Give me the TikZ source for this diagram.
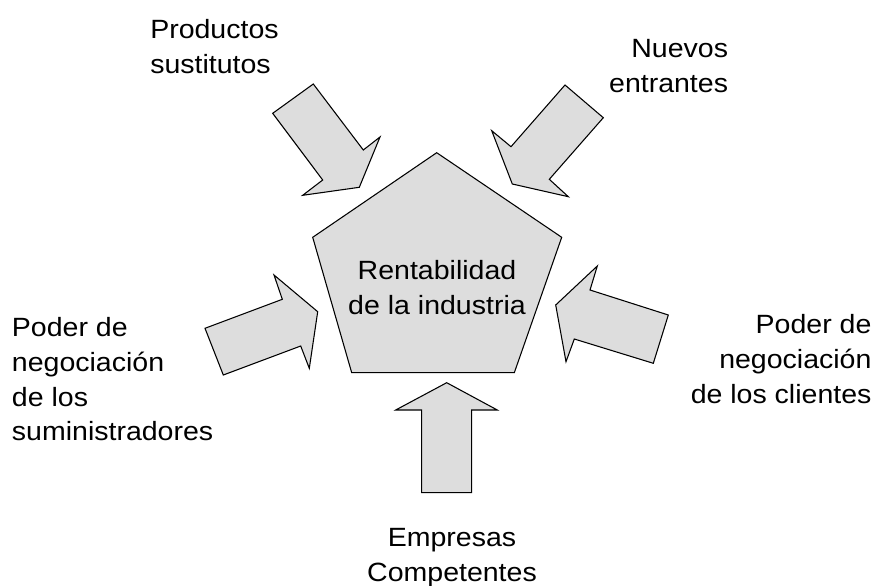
\documentclass[tikz,border=0pt]{standalone}
\usepackage{fontspec}
\setmainfont{Liberation Sans}[FakeStretch=1.08]
\definecolor{forcegray}{RGB}{221,221,221}

\begin{document}
\begin{tikzpicture}[x=0.75pt, y=-0.75pt, force/.style={draw, fill=forcegray, line width=0.8pt, line join=miter},
        txt/.style={inner sep=0pt, font=\fontsize{19.8}{26}\selectfont}]
        \useasboundingbox (0,0) rectangle (877,585);

        % centre
        \draw[force] (436.7,152.7) -- (561.7,237.3) -- (514.3,372.7) -- (351.7,372.7) -- (312.7,237.3) -- cycle;
        \node[txt, align=center, anchor=north] (rentab) at (437,260.5) {Rentabilidad\\de la industria};

        % forces
        \draw[force] (272.7,113.3) -- (313.3,84) -- (363.3,150) -- (380,137) -- (359.3,187.3) -- (302.7,195.3) -- (322.7,180) -- cycle;
        \draw[force] (565,85) -- (603.3,117.7) -- (549.3,179.3) -- (568.3,196.7) -- (512.3,184) -- (491.7,130.7) -- (511,146.7) -- cycle;
        \draw[force] (205,328.3) -- (282.3,299.3) -- (274,275) -- (317.7,311.7) -- (309.3,368.3) -- (300.7,346) -- (223.3,375) -- cycle;
        \draw[force] (555.7,305) -- (597.3,266) -- (590,290) -- (668.3,315) -- (653.3,363.3) -- (574.3,339) -- (566,361.7) -- cycle;
        \draw[force] (446.7,382.7) -- (497.3,410) -- (471.7,410) -- (471.7,492.7) -- (421.7,492.7) -- (421.7,410) -- (395.7,410) -- cycle;

        % labels
        \node[txt, align=left, anchor=north west] (sustitutos) at (150,19) {Productos\\sustitutos};
        \node[txt, align=right, anchor=north east] (entrantes) at (728.3,39.5) {Nuevos\\entrantes};
        \node[txt, align=left, anchor=north west] (proveedores) at (11.7,317.5) {Poder de\\negociación\\de los\\suministradores};
        \node[txt, align=right, anchor=north east] (clientes) at (871.7,314.5) {Poder de\\negociación\\de los clientes};
        \node[txt, align=center, anchor=north] (rivales) at (452,528) {Empresas\\Competentes};
\end{tikzpicture}
\end{document}
